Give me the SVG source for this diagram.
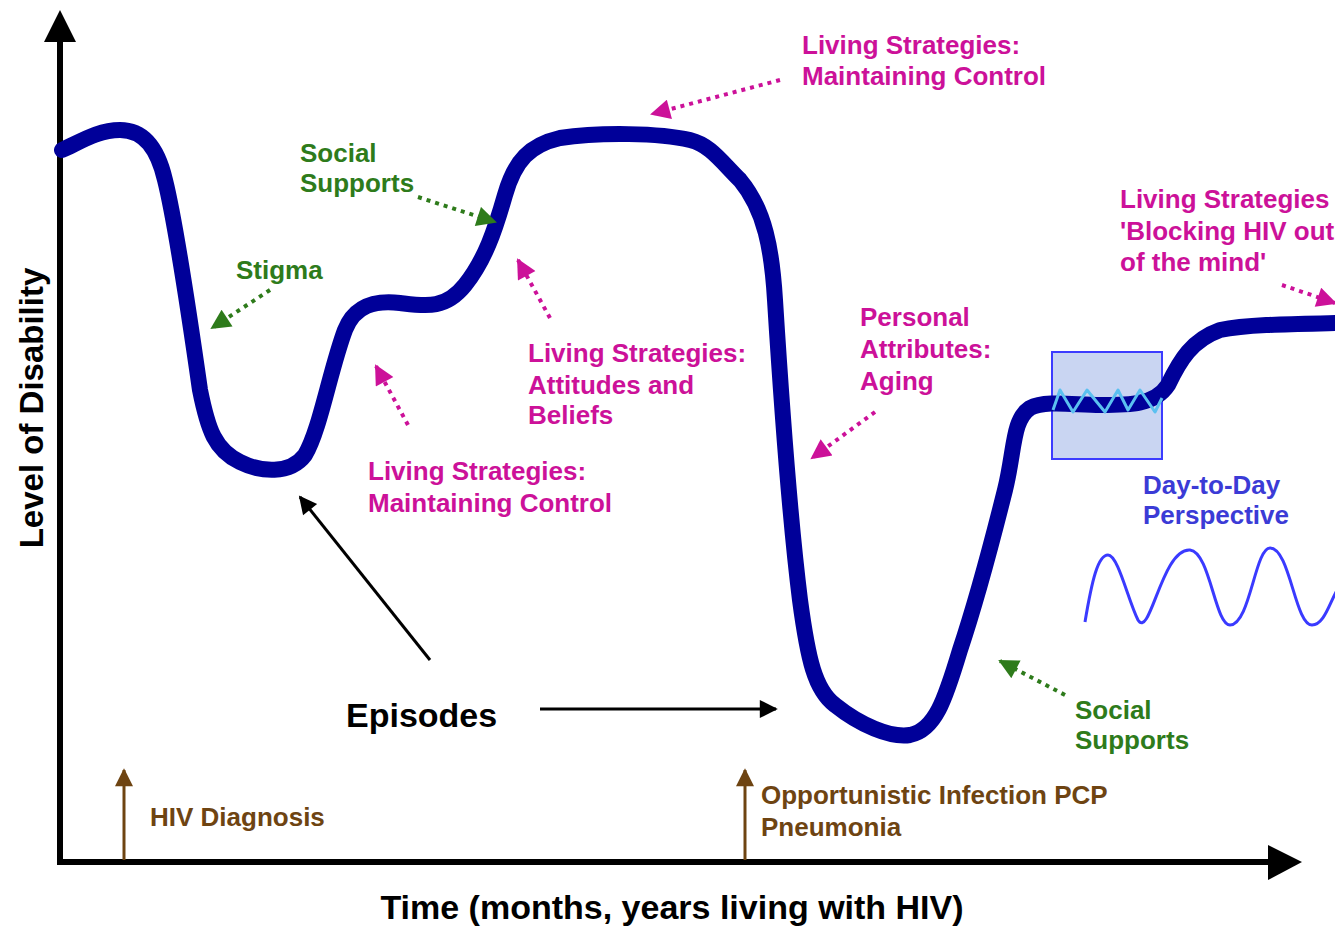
<svg xmlns="http://www.w3.org/2000/svg" width="1335" height="926" viewBox="0 0 1335 926">
<style>
text{font-family:"Liberation Sans",Arial,sans-serif;font-weight:bold}
.lbl{font-size:26px}
.mag{fill:#cc1199}
.grn{fill:#2e7b1b}
.brn{fill:#6e4412}
.blu{fill:#3b3bd6}
.big{font-size:34px;fill:#000}
.dm{fill:none;stroke:#cc1199;stroke-width:4;stroke-dasharray:4 5}
.dg{fill:none;stroke:#2e7b1b;stroke-width:4;stroke-dasharray:4 5}
</style>
<defs>
<marker id="hm" viewBox="0 0 10 10" refX="9" refY="5" markerUnits="userSpaceOnUse" markerWidth="22" markerHeight="20" orient="auto"><path d="M0,0 L10,5 L0,10 z" fill="#cc1199"/></marker>
<marker id="hg" viewBox="0 0 10 10" refX="9" refY="5" markerUnits="userSpaceOnUse" markerWidth="22" markerHeight="20" orient="auto"><path d="M0,0 L10,5 L0,10 z" fill="#2e7b1b"/></marker>
<marker id="hk" viewBox="0 0 10 10" refX="9" refY="5" markerUnits="userSpaceOnUse" markerWidth="22" markerHeight="18" orient="auto"><path d="M0,0 L10,5 L0,10 z" fill="#000"/></marker>
<marker id="hb" viewBox="0 0 10 10" refX="9" refY="5" markerUnits="userSpaceOnUse" markerWidth="22" markerHeight="18" orient="auto"><path d="M0,0 L10,5 L0,10 z" fill="#6e4412"/></marker>
</defs>
<rect width="1335" height="926" fill="#fff"/>

<g id="axes">
<path d="M60 862 V38" stroke="#000" stroke-width="6" fill="none"/>
<path d="M60 10 L44 42 L76 42 z" fill="#000"/>
<path d="M57 862 H1272" stroke="#000" stroke-width="6" fill="none"/>
<path d="M1302 862 L1268 845 L1268 880 z" fill="#000"/>
<text x="0" y="0" transform="translate(43 408) rotate(-90)" text-anchor="middle" style="font-size:33px;fill:#000">Level of Disability</text>
<text class="big" x="672" y="919" text-anchor="middle">Time (months, years living with HIV)</text>
</g>

<g id="zoom-box">
<rect x="1052" y="352" width="110" height="107" fill="#c9d5f2" stroke="#3c3cff" stroke-width="2"/>
</g>

<g id="curve">
<path d="M62 150 C80 142 98 130 120 130 C145 130 158 150 165 180 C175 220 190 320 200 390 C208 430 215 450 240 462 C260 472 290 475 305 455 C320 430 330 370 345 330 C355 305 375 300 400 303 C425 306 445 310 465 285 C485 260 495 230 505 195 C515 160 530 145 560 138 C600 132 660 133 690 140 C710 145 720 160 740 180 C765 210 772 250 775 300 C780 380 790 520 800 600 C808 660 815 690 835 705 C860 725 890 738 910 735 C935 730 945 700 960 650 C980 590 995 530 1005 490 C1015 450 1012 420 1030 408 C1045 400 1075 405 1100 405 C1130 405 1155 405 1168 385 C1180 360 1192 340 1220 330 C1250 324 1300 324 1340 323" fill="none" stroke="#000099" stroke-width="16" stroke-linecap="round" stroke-linejoin="round"/>
</g>

<g id="zigzag">
<path d="M1053 410 L1060 390 L1073 412 L1087 390 L1105 412 L1118 390 L1128 410 L1140 390 L1155 412 L1162 398" fill="none" stroke="#5bc0f0" stroke-width="3" stroke-linejoin="round"/>
</g>

<g id="day-wave">
<path d="M1085 622 C1092 580 1098 555 1108 555 C1118 555 1128 600 1138 620 C1150 640 1162 548 1190 550 C1210 552 1215 625 1230 625 C1250 625 1255 548 1270 548 C1290 548 1295 625 1312 625 C1325 625 1330 600 1340 585" fill="none" stroke="#3a3aff" stroke-width="3"/>
</g>

<g id="connectors">
<path class="dm" d="M780 80 L652 114" marker-end="url(#hm)"/>
<path class="dg" d="M418 197 L495 222" marker-end="url(#hg)"/>
<path class="dg" d="M270 290 L212 328" marker-end="url(#hg)"/>
<path class="dm" d="M550 318 L518 260" marker-end="url(#hm)"/>
<path class="dm" d="M408 425 L376 366" marker-end="url(#hm)"/>
<path class="dm" d="M875 412 L812 458" marker-end="url(#hm)"/>
<path class="dm" d="M1282 285 L1335 303" marker-end="url(#hm)"/>
<path class="dg" d="M1065 695 L1000 661" marker-end="url(#hg)"/>
<path d="M430 660 L300 497" stroke="#000" stroke-width="3" fill="none" marker-end="url(#hk)"/>
<path d="M540 709 L776 709" stroke="#000" stroke-width="3" fill="none" marker-end="url(#hk)"/>
<path d="M124 860 L124 770" stroke="#6e4412" stroke-width="3" fill="none" marker-end="url(#hb)"/>
<path d="M745 860 L745 770" stroke="#6e4412" stroke-width="3" fill="none" marker-end="url(#hb)"/>
</g>

<g id="label-top-control"><text class="lbl mag" x="802" y="54">Living Strategies:</text><text class="lbl mag" x="802" y="85">Maintaining Control</text></g>
<g id="label-social-1"><text class="lbl grn" x="300" y="162">Social</text><text class="lbl grn" x="300" y="192">Supports</text></g>
<g id="label-stigma"><text class="lbl grn" x="236" y="279">Stigma</text></g>
<g id="label-attitudes"><text class="lbl mag" x="528" y="362">Living Strategies:</text><text class="lbl mag" x="528" y="394">Attitudes and</text><text class="lbl mag" x="528" y="424">Beliefs</text></g>
<g id="label-control-2"><text class="lbl mag" x="368" y="480">Living Strategies:</text><text class="lbl mag" x="368" y="512">Maintaining Control</text></g>
<g id="label-aging"><text class="lbl mag" x="860" y="326">Personal</text><text class="lbl mag" x="860" y="358">Attributes:</text><text class="lbl mag" x="860" y="390">Aging</text></g>
<g id="label-blocking"><text class="lbl mag" x="1120" y="208">Living Strategies</text><text class="lbl mag" x="1120" y="240">'Blocking HIV out</text><text class="lbl mag" x="1120" y="271">of the mind'</text></g>
<g id="label-day"><text class="lbl blu" x="1143" y="494">Day-to-Day</text><text class="lbl blu" x="1143" y="524">Perspective</text></g>
<g id="label-social-2"><text class="lbl grn" x="1075" y="719">Social</text><text class="lbl grn" x="1075" y="749">Supports</text></g>
<g id="label-episodes"><text class="big" x="346" y="727">Episodes</text></g>
<g id="label-hiv"><text class="lbl brn" x="150" y="826">HIV Diagnosis</text></g>
<g id="label-oi"><text class="lbl brn" x="761" y="804">Opportunistic Infection PCP</text><text class="lbl brn" x="761" y="836">Pneumonia</text></g>
</svg>
